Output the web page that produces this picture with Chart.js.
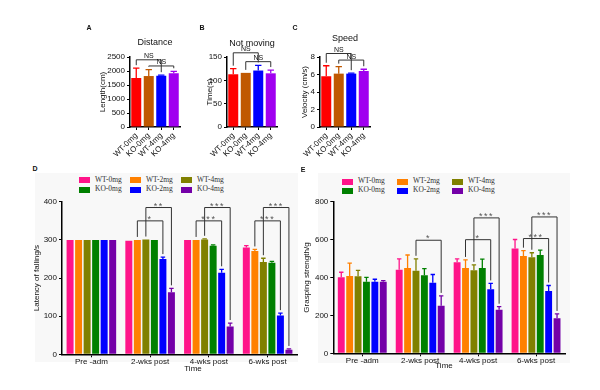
<!DOCTYPE html>
<html>
<head>
<meta charset="utf-8">
<script src="https://cdn.jsdelivr.net/npm/chart.js@4.4.1/dist/chart.umd.min.js"></script>
<style>
  body { margin: 0; width: 600px; height: 390px; position: relative; overflow: hidden; background: #fff;
         font-family: Arial, "Liberation Sans", sans-serif; }
  canvas { position: absolute; }
  .bg { position: absolute; background: #f8f8f8; }
  .txt { position: absolute; transform: translate(-50%, -50%); white-space: nowrap; color: #111; }
  .letter { font-weight: bold; font-size: 7px; }
  .sw { position: absolute; width: 11px; height: 6px; }
  .lg { position: absolute; font-family: "Liberation Serif", "Times New Roman", serif; font-size: 7.5px;
        color: #333; white-space: nowrap; line-height: 8px; }
</style>
</head>
<body>
<div class="bg" style="left:35px;top:173px;width:263px;height:189px"></div>
<div class="bg" style="left:318px;top:173px;width:252px;height:190px"></div>

<canvas id="cA" width="110" height="145" style="left:80px;top:20px"></canvas>
<canvas id="cB" width="110" height="145" style="left:177px;top:20px"></canvas>
<canvas id="cC" width="110" height="145" style="left:270px;top:20px"></canvas>
<canvas id="cD" width="300" height="190" style="left:0px;top:195px"></canvas>
<canvas id="cE" width="300" height="190" style="left:300px;top:195px"></canvas>

<div class="txt letter" style="left:89px;top:27px">A</div>
<div class="txt letter" style="left:202px;top:27px">B</div>
<div class="txt letter" style="left:295px;top:27px">C</div>
<div class="txt letter" style="left:35px;top:168px">D</div>
<div class="txt letter" style="left:303px;top:169px">E</div>
<div class="txt" style="left:193px;top:368px;font-size:8px">Time</div>
<div class="txt" style="left:444px;top:365px;font-size:8px">Time</div>

<script>
const FONT = 'Arial, "Liberation Sans", sans-serif';

// top row (A-C): one bar per group
const topLabels = ['WT-0mg', 'KO-0mg', 'WT-4mg', 'KO-4mg'];
const topColors = ['#ff0000', '#c05800', '#0000ff', '#a000f0'];

const distance = [1750, 1820, 1830, 1920];
const distanceErr = [350, 230, 20, 70];
const notMoving = [113, 116, 121, 115];
const notMovingErr = [12, 0, 11, 7];
const speed = [5.8, 6.1, 6.1, 6.4];
const speedErr = [1.2, 0.8, 0.05, 0.2];

// bottom row (D-E): six groups over four time points
const timeLabels = ['Pre -adm', '2-wks post', '4-wks post', '6-wks post'];
const groupNames = ['WT-0mg', 'WT-2mg', 'WT-4mg', 'KO-0mg', 'KO-2mg', 'KO-4mg'];
const groupColors = ['#ff1489', '#ff8000', '#808000', '#008000', '#0000ff', '#7400a8'];

const latWT0 = [300, 298, 300, 280], latWT0Err = [0, 0, 0, 5];
const latWT2 = [300, 300, 300, 271], latWT2Err = [0, 0, 0, 4];
const latWT4 = [300, 301, 301, 242], latWT4Err = [0, 0, 2, 10];
const latKO0 = [300, 300, 285, 240], latKO0Err = [0, 0, 2, 4];
const latKO2 = [300, 250, 214, 102], latKO2Err = [0, 5, 9, 6];
const latKO4 = [300, 163, 73, 12],   latKO4Err = [0, 10, 9, 2];

const gripWT0 = [401, 441, 481, 554], gripWT0Err = [27, 58, 18, 47];
const gripWT2 = [408, 450, 450, 514], gripWT2Err = [68, 69, 43, 28];
const gripWT4 = [407, 436, 438, 507], gripWT4Err = [31, 63, 29, 24];
const gripKO0 = [378, 412, 450, 519], gripKO0Err = [23, 35, 47, 26];
const gripKO2 = [378, 372, 338, 329], gripKO2Err = [13, 44, 31, 29];
const gripKO4 = [378, 251, 230, 185], gripKO4Err = [6, 52, 16, 23];

// significance brackets: from/to are bar indices, y is the bracket height in data units
const distanceSig = [{ from: 0, to: 2, y: 2400, text: 'NS' }, { from: 1, to: 3, y: 2180, text: 'NS' }];
const notMovingSig = [{ from: 0, to: 2, y: 159, text: 'NS' }, { from: 1, to: 3, y: 140, text: 'NS' }];
const speedSig = [{ from: 0, to: 2, y: 8.4, text: 'NS' }, { from: 1, to: 3, y: 7.65, text: 'NS' }];
const latencySig = [
  { group: 1, from: 1, to: 4, y: 350, text: '*' },
  { group: 1, from: 2, to: 5, y: 385, text: '**' },
  { group: 2, from: 1, to: 4, y: 350, text: '***' },
  { group: 2, from: 2, to: 5, y: 385, text: '***' },
  { group: 3, from: 1, to: 4, y: 350, text: '***' },
  { group: 3, from: 2, to: 5, y: 385, text: '***' }
];
const gripSig = [
  { group: 1, from: 2, to: 5, y: 597, text: '*' },
  { group: 2, from: 1, to: 4, y: 600, text: '*' },
  { group: 2, from: 2, to: 5, y: 715, text: '***' },
  { group: 3, from: 1, to: 4, y: 606, text: '***' },
  { group: 3, from: 2, to: 5, y: 720, text: '***' }
];

// error bars drawn on top of each bar, same colour as the bar
const errorBars = {
  id: 'errorBars',
  afterDatasetsDraw(chart) {
    const ctx = chart.ctx;
    const y = chart.scales.y;
    chart.data.datasets.forEach((ds, i) => {
      const meta = chart.getDatasetMeta(i);
      meta.data.forEach((bar, j) => {
        const err = ds.errors ? ds.errors[j] : 0;
        if (!err) return;
        const top = y.getPixelForValue(ds.data[j] + err);
        const cap = bar.width * 0.32;
        ctx.save();
        ctx.strokeStyle = Array.isArray(ds.backgroundColor) ? ds.backgroundColor[j] : ds.backgroundColor;
        ctx.lineWidth = 1.3;
        ctx.beginPath();
        ctx.moveTo(bar.x, bar.y);
        ctx.lineTo(bar.x, top);
        ctx.moveTo(bar.x - cap, top);
        ctx.lineTo(bar.x + cap, top);
        ctx.stroke();
        ctx.restore();
      });
    });
  }
};

// brackets with stars / NS; grouped charts pick one bar per dataset
function brackets(items, grouped, textFont, textColor) {
  return {
    id: 'brackets',
    afterDraw(chart) {
      const ctx = chart.ctx;
      const y = chart.scales.y;
      items.forEach(b => {
        const ends = [b.from, b.to].map(k => {
          const ds = grouped ? k : 0;
          const idx = grouped ? b.group : k;
          const bar = chart.getDatasetMeta(ds).data[idx];
          const d = chart.data.datasets[ds];
          const top = d.data[idx] + (d.errors ? d.errors[idx] : 0);
          return { x: bar.x, bottom: y.getPixelForValue(top) - 3 };
        });
        const yl = y.getPixelForValue(b.y);
        ctx.save();
        ctx.strokeStyle = '#333';
        ctx.lineWidth = 1;
        ctx.beginPath();
        ctx.moveTo(ends[0].x, ends[0].bottom);
        ctx.lineTo(ends[0].x, yl);
        ctx.lineTo(ends[1].x, yl);
        ctx.lineTo(ends[1].x, ends[1].bottom);
        ctx.stroke();
        ctx.font = textFont;
        ctx.fillStyle = textColor;
        ctx.textAlign = 'center';
        ctx.textBaseline = 'bottom';
        if (b.text !== 'NS') ctx.letterSpacing = '1.5px';
        ctx.fillText(b.text, (ends[0].x + ends[1].x) / 2, b.text === 'NS' ? yl : yl + 3);
        ctx.restore();
      });
    }
  };
}

function axisStyle() {
  return {
    grid: { drawOnChartArea: false, offset: false, tickLength: 3, color: '#000', tickWidth: 1 },
    border: { color: '#000', width: 1.5 },
    ticks: { color: '#111', font: { size: 8, family: FONT } }
  };
}

function topPanel(id, title, yTitle, values, errs, max, step, sig, p) {
  const x = axisStyle();
  x.ticks = { ...x.ticks, minRotation: 45, maxRotation: 45, padding: 1, autoSkip: false };
  x.afterFit = s => { s.height = 38; };
  const y = axisStyle();
  y.min = 0; y.max = max;
  y.ticks = { ...y.ticks, stepSize: step, padding: 2, callback: v => String(v) };
  y.title = { display: true, text: yTitle, color: '#111', font: { size: 8, family: FONT }, padding: { top: p.yTitle, bottom: 0 } };
  y.afterFit = s => { s.width = 50; };

  return new Chart(document.getElementById(id), {
    type: 'bar',
    data: {
      labels: topLabels,
      datasets: [{ data: values, errors: errs, backgroundColor: topColors, barPercentage: 0.8, categoryPercentage: 1 }]
    },
    options: {
      responsive: false,
      animation: false,
      devicePixelRatio: 1,
      layout: { autoPadding: false, padding: { left: 0, right: 10, top: 0, bottom: 0 } },
      plugins: {
        legend: { display: false },
        tooltip: { enabled: false },
        title: { display: true, fullSize: false, text: title, color: '#111', font: { size: 9, family: FONT, weight: 'normal' },
                 padding: { top: p.titleTop, bottom: p.titleBottom } }
      },
      scales: { x, y }
    },
    plugins: [errorBars, brackets(sig, false, '7px ' + FONT, '#111')]
  });
}

function bottomPanel(id, yTitle, series, errs, max, step, sig, p) {
  const x = axisStyle();
  x.ticks = { ...x.ticks, padding: 0, maxRotation: 0, autoSkip: false };
  x.afterFit = s => { s.height = p.xHeight; };
  const y = axisStyle();
  y.min = 0; y.max = max;
  y.ticks = { ...y.ticks, stepSize: step, padding: 2 };
  y.title = { display: true, text: yTitle, color: '#111', font: { size: 8, family: FONT }, padding: { top: p.yTitle, bottom: 0 } };
  y.afterFit = s => { s.width = p.yWidth; };

  return new Chart(document.getElementById(id), {
    type: 'bar',
    data: {
      labels: timeLabels,
      datasets: series.map((d, i) => ({
        label: groupNames[i], data: d, errors: errs[i], backgroundColor: groupColors[i],
        barPercentage: 0.82, categoryPercentage: 0.87
      }))
    },
    options: {
      responsive: false,
      animation: false,
      devicePixelRatio: 1,
      layout: { autoPadding: false, padding: { left: 0, right: p.right, top: p.top, bottom: 0 } },
      plugins: { legend: { display: false }, tooltip: { enabled: false } },
      scales: { x, y }
    },
    plugins: [errorBars, brackets(sig, true, '9px ' + FONT, '#555')]
  });
}

// html legend, three per row like the original
function htmlLegend(x0, rows, pitch) {
  groupNames.forEach((name, i) => {
    const left = x0 + (i % 3) * pitch;
    const cy = rows[Math.floor(i / 3)];
    const sw = document.createElement('div');
    sw.className = 'sw';
    sw.style.left = left + 'px';
    sw.style.top = (cy - 3) + 'px';
    sw.style.background = groupColors[i];
    document.body.appendChild(sw);
    const t = document.createElement('div');
    t.className = 'lg';
    t.textContent = name;
    t.style.left = (left + 16) + 'px';
    t.style.top = (cy - 4.5) + 'px';
    document.body.appendChild(t);
  });
}

topPanel('cA', 'Distance', 'Length(cm)', distance, distanceErr, 2500, 500, distanceSig,
  { titleTop: 17.6, titleBottom: 8.6, yTitle: 18.2 });
topPanel('cB', 'Not moving', 'Time(s)', notMoving, notMovingErr, 150, 50, notMovingSig,
  { titleTop: 17.9, titleBottom: 8.3, yTitle: 28 });
topPanel('cC', 'Speed', 'Velocity (cm/s)', speed, speedErr, 8, 2, speedSig,
  { titleTop: 13.6, titleBottom: 12.6, yTitle: 30.2 });

bottomPanel('cD', 'Latency of falling/s',
  [latWT0, latWT2, latWT4, latKO0, latKO2, latKO4],
  [latWT0Err, latWT2Err, latWT4Err, latKO0Err, latKO2Err, latKO4Err],
  400, 100, latencySig,
  { yWidth: 62, right: 3, top: 3.3, xHeight: 30.7, yTitle: 31.9 });
bottomPanel('cE', 'Grasping strength/g',
  [gripWT0, gripWT2, gripWT4, gripKO0, gripKO2, gripKO4],
  [gripWT0Err, gripWT2Err, gripWT4Err, gripKO0Err, gripKO2Err, gripKO4Err],
  800, 200, gripSig,
  { yWidth: 33.3, right: 35, top: 4.3, xHeight: 31.7, yTitle: 1.9 });

htmlLegend(79, [180.3, 189.5], 51);
htmlLegend(342, [181.7, 190.8], 55);
</script>
</body>
</html>
